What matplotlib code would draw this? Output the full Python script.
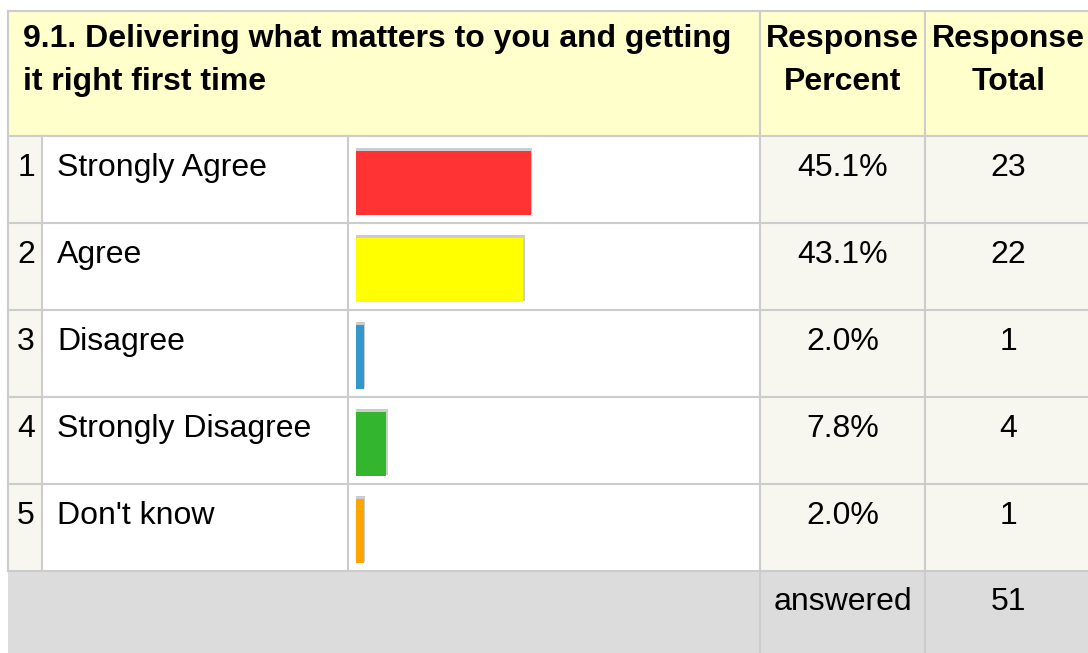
import matplotlib.pyplot as plt
from matplotlib.patches import Rectangle

plt.rcParams['font.family'] = ['Liberation Sans', 'DejaVu Sans']

question = ['9.1. Delivering what matters to you and getting', 'it right first time']
pct_head = ['Response', 'Percent']
tot_head = ['Response', 'Total']
answers = ['Strongly Agree', 'Agree', 'Disagree', 'Strongly Disagree', "Don't know"]
percents = [45.1, 43.1, 2.0, 7.8, 2.0]
totals = [23, 22, 1, 4, 1]
answered = 51
bar_colors = ['#ff3333', '#ffff00', '#3399cc', '#33b52d', '#ffa500']

W, H = 1088, 653
GRID = '#cccccc'
HEAD_BG = '#ffffcc'
SHADE_BG = '#f7f7f0'
FOOT_BG = '#dcdcdc'
FS = 23

# layout in pixels
left, x_num, x_bar, x_pct, x_tot, right = 8, 42, 348, 760, 925, 1092
top, head_bot, row_h = 11, 136, 87
rows_bot = head_bot + row_h * len(answers)

fig = plt.figure(figsize=(W / 100, H / 100), dpi=100)
ax = fig.add_axes([0, 0, 1, 1])
ax.set_xlim(0, W)
ax.set_ylim(H, 0)
ax.axis('off')


def cell(x0, y0, x1, y1, color):
    ax.add_patch(Rectangle((x0, y0), x1 - x0, y1 - y0, facecolor=color,
                           edgecolor='none', zorder=0))


# backgrounds
cell(left, top, right, head_bot, HEAD_BG)
cell(left, head_bot, x_num, rows_bot, SHADE_BG)
cell(x_pct, head_bot, right, rows_bot, SHADE_BG)
cell(left, rows_bot, right, H + 5, FOOT_BG)

# grid lines
lw = 1.5
ax.plot([left, right], [top, top], color=GRID, lw=lw)
for i in range(len(answers) + 1):
    y = head_bot + i * row_h
    ax.plot([left, right], [y, y], color=GRID, lw=lw)
ax.plot([left, left], [top, rows_bot], color=GRID, lw=lw)
for x in (x_num, x_bar):
    ax.plot([x, x], [head_bot, rows_bot], color=GRID, lw=lw)
for x in (x_pct, x_tot):
    ax.plot([x, x], [top, H + 5], color=GRID, lw=lw)

# header, one text per line
for k, yb in enumerate((47, 90)):
    ax.text(23, yb, question[k], fontsize=FS, fontweight='bold',
            va='baseline', ha='left')
    ax.text((x_pct + x_tot) / 2, yb, pct_head[k], fontsize=FS,
            fontweight='bold', va='baseline', ha='center')
    ax.text((x_tot + right) / 2, yb, tot_head[k], fontsize=FS,
            fontweight='bold', va='baseline', ha='center')

# rows
for i, (a, p, t) in enumerate(zip(answers, percents, totals)):
    yb = head_bot + i * row_h + 40
    ax.text((left + x_num) / 2 + 1, yb, str(i + 1), fontsize=FS,
            ha='center', va='baseline')
    ax.text(57, yb, a, fontsize=FS, ha='left', va='baseline')
    ax.text((x_pct + x_tot) / 2, yb, f'{p:.1f}%', fontsize=FS,
            ha='center', va='baseline')
    ax.text((x_tot + right) / 2, yb, str(t), fontsize=FS,
            ha='center', va='baseline')

# footer
ax.text((x_pct + x_tot) / 2, rows_bot + 39, 'answered', fontsize=FS,
        ha='center', va='baseline')
ax.text((x_tot + right) / 2, rows_bot + 39, str(answered), fontsize=FS,
        ha='center', va='baseline')

# bars
bar_left, bar_span = 356, 388
bx = fig.add_axes([bar_left / W, 1 - rows_bot / H, bar_span / W,
                   (rows_bot - head_bot) / H])
bx.set_xlim(0, 100)
bx.set_ylim(len(answers) - 0.5, -0.5)
bx.axis('off')
bx.patch.set_alpha(0)
pos = list(range(len(answers)))
bx.barh([y + 0.02 for y in pos], [p + 0.5 for p in percents], height=0.76,
        left=-0.15, color=GRID)
bx.barh([y + 0.035 for y in pos], percents, height=0.735, color=bar_colors)

fig.savefig('out.png', dpi=100)
